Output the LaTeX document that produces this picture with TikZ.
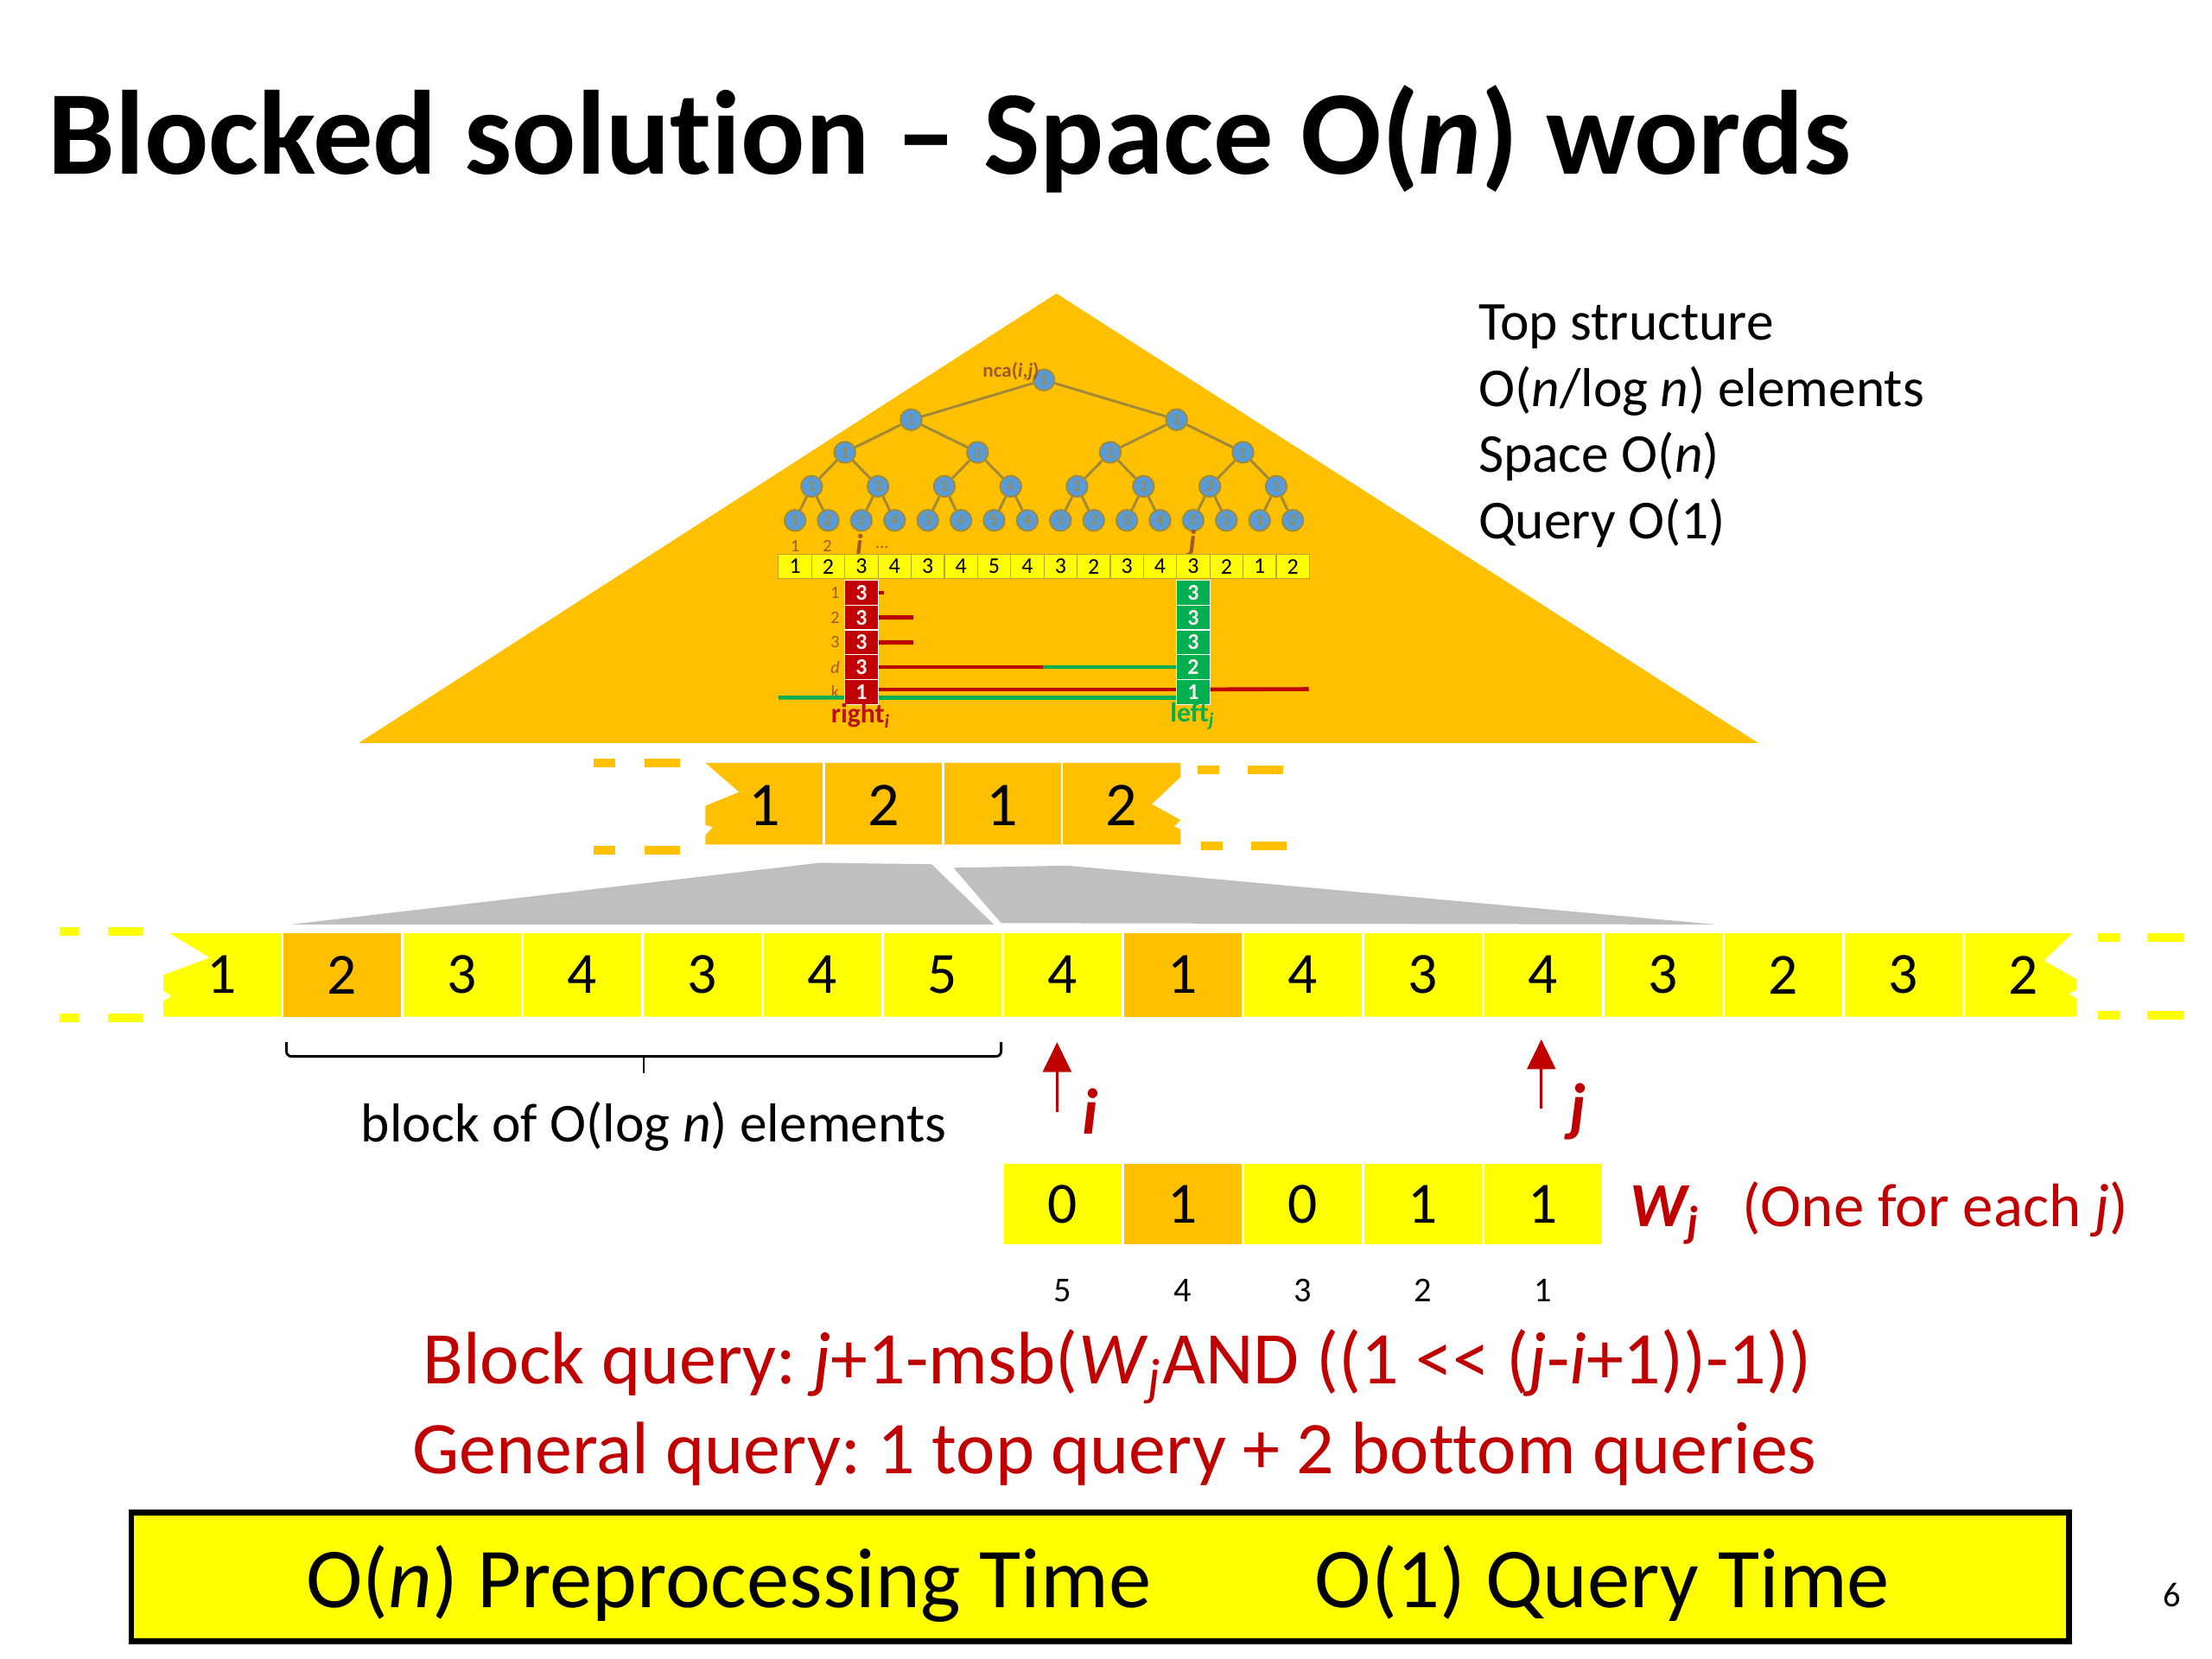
\documentclass[tikz,border=0pt]{standalone}
\usepackage{fontspec}
\setmainfont{Carlito}[Ligatures={TeX,NoCommon}]
\usetikzlibrary{arrows.meta}
\definecolor{slideorange}{HTML}{FFC000}
\definecolor{slideyellow}{HTML}{FFFF00}
\definecolor{slidered}{HTML}{C00000}
\definecolor{slidegrey}{HTML}{BFBFBF}
\definecolor{treeblue}{HTML}{5B9BD5}
\definecolor{treeedge}{HTML}{A0883A}
\definecolor{treebrown}{HTML}{9C5B2E}
\definecolor{rowgreen}{HTML}{00B050}
\definecolor{stripline}{HTML}{BFA030}
\frenchspacing
\begin{document}
\begin{tikzpicture}[x=0.01cm, y=-0.01cm,
  numcell/.style={inner sep=0pt, font=\fontsize{11.7}{14}\selectfont},
  wcell/.style={draw=white, line width=0.5pt, minimum width=0.847cm, minimum height=0.585cm, inner sep=0pt, font=\fontsize{11.7}{14}\selectfont},
  idx/.style={inner sep=0pt, font=\fontsize{7}{8}\selectfont},
  sepline/.style={draw=white, line width=0.5pt},
  dashbar/.style={line width=1.7pt},
  tnode/.style={circle, fill=treeblue, draw=treeedge, line width=0.3pt, minimum size=0.15cm, inner sep=0pt, font=\fontsize{3}{3}\selectfont, text=treeedge},
  tedge/.style={draw=treeedge, line width=0.5pt},
  scell/.style={draw=stripline, fill=slideyellow, line width=0.2pt, minimum width=0.234cm, minimum height=0.17cm, inner sep=0pt, font=\fontsize{4.5}{5}\selectfont},
  colcell/.style={draw=white, line width=0.2pt, minimum width=0.234cm, minimum height=0.175cm, inner sep=0pt, font=\fontsize{4.5}{5}\bfseries\selectfont, text=white!75!pink},
  tiny/.style={inner sep=0pt, font=\fontsize{3.5}{4}\selectfont, text=treebrown},
  redbar/.style={draw=slidered, line width=0.8pt},
  greenbar/.style={draw=rowgreen, line width=0.8pt},
  ptr/.style={draw=slidered, line width=0.5pt, -{Triangle[length=0.21cm, width=0.2cm]}},
  toptext/.style={anchor=base west, inner sep=0pt, font=\fontsize{11}{13}\selectfont},
  redtext/.style={anchor=base, inner sep=0pt, text=slidered, font=\fontsize{14.9}{18}\selectfont}]
\useasboundingbox (0,0) rectangle (1560,1170);
\fill[white] (0,0) rectangle (1560,1170);

% title
\path (33,123) node[anchor=base west, inner sep=0pt, font=\fontsize{24}{28}\bfseries\selectfont] (title) {Blocked solution -- Space O(\textit{n}) words};

% top structure
\fill[slideorange] (745,207) -- (1240,524) -- (253,524) -- cycle;
\path (1042,240) node[toptext] (top1) {Top structure};
\path (1042,286.5) node[toptext] (top2) {O(\textit{n}/log \textit{n}) elements};
\path (1042,333) node[toptext] (top3) {Space O(\textit{n})};
\path (1042,380) node[toptext] (top4) {Query O(1)};

% tree
\path (736.2,268) node[tnode] (a) {1};
\foreach \v [count=\k from 0] in {1,1}
  \path (642.6+187.2*\k,296) node[tnode] (b\k) {\v};
\foreach \v [count=\k from 0] in {1,3,2,1}
  \path (595.8+93.6*\k,319) node[tnode] (c\k) {\v};
\foreach \v [count=\k from 0] in {1,3,3,4,2,3,2,1}
  \path (572.4+46.8*\k,343) node[tnode] (d\k) {\v};
\foreach \v [count=\k from 0] in {1,2,3,4,3,4,5,4,3,2,3,4,3,2,1,2}
  \path (560.7+23.4*\k,367) node[tnode] (l\k) {\v};
\foreach \k in {0,1} \draw[tedge] (a) -- (b\k);
\foreach \k in {0,...,3} {\pgfmathtruncatemacro{\p}{int(\k/2)} \draw[tedge] (b\p) -- (c\k);}
\foreach \k in {0,...,7} {\pgfmathtruncatemacro{\p}{int(\k/2)} \draw[tedge] (c\p) -- (d\k);}
\foreach \k in {0,...,15} {\pgfmathtruncatemacro{\p}{int(\k/2)} \draw[tedge] (d\p) -- (l\k);}
\path (713,262) node[tiny, font=\fontsize{4}{4}\bfseries\selectfont] (nca) {nca(\textit{i},\textit{j})};
\path (560.7,385) node[tiny] (lab1) {1};
\path (583.5,385) node[tiny] (lab2) {2};
\path (606,384) node[tiny, font=\fontsize{6}{6}\bfseries\itshape\selectfont] (labi) {i};
\path (622,386) node[tiny] (labdots) {...};
\path (841,383) node[tiny, font=\fontsize{6}{6}\bfseries\itshape\selectfont] (labj) {j};

% small array and the two columns
\foreach \v [count=\k from 0] in {1,2,3,4,3,4,5,4,3,2,3,4,3,2,1,2}
  \path (560.7+23.4*\k,399.5) node[scell] (y\k) {\v};
\foreach \v [count=\r from 1] in {3,3,3,3,1}
  \path (607.5,400.5+17.5*\r) node[colcell, fill=slidered] (r\r) {\v};
\foreach \v [count=\r from 1] in {3,3,3,2,1}
  \path (841.5,400.5+17.5*\r) node[colcell, fill=rowgreen] (g\r) {\v};
\foreach \v [count=\r from 1] in {1,2,3,\textit{d},k}
  \path (589,400.5+17.5*\r) node[tiny, text=treebrown] (rl\r) {\v};
\draw[redbar] (r1.east) -- ++(4,0);
\draw[redbar] (r2.east) -- ++(24.4,0);
\draw[redbar] (r3.east) -- ++(24.4,0);
\coordinate (dsplit) at (735.5,470.5);
\draw[redbar] (r4.east) -- (dsplit);
\draw[greenbar] (dsplit) -- (g4.west);
\coordinate (kend) at (923,486);
\coordinate (kstart) at (549,492);
\draw[redbar] ([yshift=0.018cm]r5.east) -- ([yshift=0.018cm]g5.west);
\draw[redbar] ([yshift=0.018cm]g5.east) -- (kend);
\draw[greenbar] (kstart) -- ([yshift=-0.04cm]r5.west);
\draw[greenbar] ([yshift=-0.04cm]r5.east) -- ([yshift=-0.04cm]g5.west);
\path (607.5,505) node[inner sep=0pt, text=slidered!80!treebrown, font=\fontsize{5.5}{6}\bfseries\selectfont] (righti) {right\textsubscript{\itshape i}};
\path (841.5,505) node[inner sep=0pt, text=rowgreen, font=\fontsize{5.5}{6}\bfseries\selectfont] (leftj) {left\textsubscript{\itshape j}};

% block minima strip
\fill[slideorange] (497.5,538) -- (521.3,558.6) -- (497.5,568.3) -- (497.5,581.9) -- (502.8,583.3) -- (497.5,589) -- (497.5,595.6) -- (832.6,595.6) -- (832.6,584.9) -- (828,582.9) -- (832.6,578.4) -- (812.3,567.1) -- (832.6,548) -- (832.6,538) -- cycle;
\foreach \k in {1,2,3} \draw[sepline] (497.5+83.8*\k,538) -- (497.5+83.8*\k,595.6);
\foreach \v [count=\k from 0] in {1,2,1,2}
  \path (539.4+83.8*\k,568) node[numcell, font=\fontsize{12.5}{14}\selectfont] (s\k) {\v};
\foreach \a/\b/\y in {418.8/433.9/538.3, 454.8/479.3/538.3, 418.8/433.9/599.8, 454.8/479.3/599.8, 844.8/859.6/543, 879.8/905/543, 847.3/862/596.8, 882.3/907.4/596.8}
  \draw[dashbar, slideorange] (\a,\y) -- (\b,\y);

% zoom wedges
\fill[slidegrey] (205,652) -- (578,608.5) -- (657,609.5) -- (701,652) -- cycle;
\fill[slidegrey] (672.5,612) -- (753,610.5) -- (1210,652) -- (706,651) -- cycle;

% bottom array
\fill[slideyellow] (119.4,658) -- (148,675.4) -- (115.3,687.6) -- (115.3,698.8) -- (121,702.5) -- (115.3,706) -- (115.3,717) -- (1464.4,717) -- (1464.4,704) -- (1459,701) -- (1464.4,698) -- (1464.4,690.6) -- (1441.4,677.4) -- (1461.8,658) -- cycle;
\fill[slideorange] (199,658) rectangle (283.7,717);
\fill[slideorange] (791.9,658) rectangle (876.6,717);
\foreach \k in {1,...,15} \draw[sepline] (114.3+84.7*\k,658) -- (114.3+84.7*\k,717);
\foreach \v [count=\k from 0] in {1,2,3,4,3,4,5,4,1,4,3,4,3,2,3,2}
  \path (156.65+84.7*\k,687.5) node[numcell] (m\k) {\v};
\foreach \a/\b/\y in {42/55.7/657, 76.4/101.2/657, 42/55.7/718, 76.4/101.2/718, 1479.6/1494.9/661, 1514.3/1539.7/661, 1479.6/1494.9/716, 1514.3/1539.7/716}
  \draw[dashbar, slideyellow] (\a,\y) -- (\b,\y);

% block brace
\draw[line width=0.5pt, rounded corners=1pt] (202,735) -- (202,745) -- (706,745) -- (706,735);
\draw[line width=0.5pt] (454,745) -- (454,757);
\path (461,805) node[anchor=base, inner sep=0pt, font=\fontsize{11}{13}\selectfont] (blocktext) {block of O(log \textit{n}) elements};

% query positions
\coordinate (itail) at (745.5,784);
\coordinate (itip) at (745.5,735);
\coordinate (jtail) at (1087,782);
\coordinate (jtip) at (1087,733);
\draw[ptr] (itail) -- (itip);
\draw[ptr] (jtail) -- (jtip);
\path (769,784) node[inner sep=0pt, text=slidered, font=\fontsize{13}{15}\bfseries\itshape\selectfont] (ilab) {i};
\path (1113,784) node[inner sep=0pt, text=slidered, font=\fontsize{13}{15}\bfseries\itshape\selectfont] (jlab) {j};

% word W_j
\foreach \v/\c [count=\k from 7] in {0/slideyellow,1/slideorange,0/slideyellow,1/slideyellow,1/slideyellow}
  \path (156.65+84.7*\k,849.2) node[wcell, fill=\c] (w\k) {\v};
\foreach \v [count=\k from 7] in {5,4,3,2,1}
  \path (156.65+84.7*\k,910) node[idx] (n\k) {\v};
\path (1149,865) node[anchor=base west, inner sep=0pt, text=slidered, font=\fontsize{12.6}{15}\bfseries\itshape\selectfont] (wj) {W\textsubscript{j}};
\path (1228,865) node[anchor=base west, inner sep=0pt, text=slidered, font=\fontsize{12.3}{15}\selectfont] (wjnote) {(One for each \textit{j})};

% queries
\path (788,976) node[redtext] (blockq) {Block query: \textit{j}+1-msb(\textit{W}\textsubscript{\textit{j}}AND ((1 <{}< (\textit{j}-\textit{i}+1))-1))};
\path (786,1039) node[redtext] (generalq) {General query: 1 top query + 2 bottom queries};

% result box
\path (776,1112) node[draw=black, line width=1.2pt, fill=slideyellow, minimum width=13.66cm, minimum height=0.91cm, inner sep=0pt] (resultbox) {};
\path (514,1134) node[anchor=base, inner sep=0pt, font=\fontsize{17.1}{20}\selectfont] (prep) {O(\textit{n}) Preprocessing Time};
\path (1130,1134) node[anchor=base, inner sep=0pt, font=\fontsize{17.1}{20}\selectfont] (qtime) {O(1) Query Time};
\path (1532,1125) node[idx] (page) {6};
\end{tikzpicture}
\end{document}
